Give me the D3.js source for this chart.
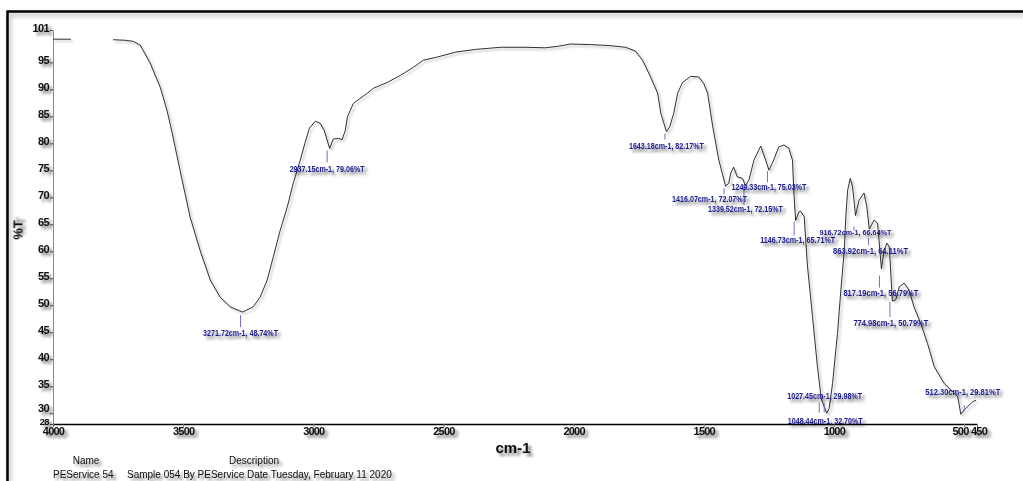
<!DOCTYPE html>
<html>
<head>
<meta charset="utf-8">
<script src="https://cdn.jsdelivr.net/npm/d3@7"></script>
<style>
  html, body { margin: 0; padding: 0; background: #fff; }
  svg { display: block; }
</style>
</head>
<body>
<svg id="chart" width="1023" height="481"></svg>
<script>
// IR spectrum: wavenumber (cm-1) and transmittance (%T); null marks a gap in the trace
const wavenumbers = [
  4000, 3931, 3900, 3769, 3723, 3692, 3665, 3627, 3588, 3562, 3542, 3512, 3473, 3435, 3396, 3358, 3319,
  3271.72, 3231, 3204, 3177, 3154, 3127, 3100, 3077, 3050, 3031, 3015, 2992, 2973, 2958,
  2937.15, 2923, 2904, 2889, 2877, 2869, 2846, 2792, 2769, 2715, 2665, 2615, 2577, 2523, 2454, 2377,
  2281, 2185, 2108, 2058, 2012, 1935, 1858, 1800, 1762, 1735, 1704, 1677, 1665,
  1643.18, 1631, 1615, 1600, 1581, 1550, 1519, 1500, 1485, 1465, 1442,
  1416.07, 1404, 1396, 1385, 1371, 1351, 1339.52, 1326, 1307, 1281, 1262, 1249.33, 1231, 1212, 1192,
  1173, 1159, 1153, 1146.73, 1134, 1127, 1114, 1101, 1082, 1063, 1048.44, 1027.45, 1018, 1005, 986,
  973, 960, 954, 947, 937, 928, 916.72, 903, 884, 873, 863.92, 845, 832, 817.19, 807, 796, 787,
  774.98, 762, 749, 730, 711, 692, 666, 640, 614, 576, 550, 524, 512.30, 493, 467, 454
];
const transmittance = [
  99.3, 99.3, null, 99.2, 99.1, 98.9, 98.2, 94.9, 90.4, 86.1, 81.9, 75.0, 66.3, 60.2, 54.7, 51.5, 49.7,
  48.74, 49.7, 51.5, 54.7, 58.9, 63.9, 68.2, 72.6, 76.9, 80.2, 82.8, 84.1, 83.7, 82.4,
  79.06, 80.8, 80.9, 80.7, 82.4, 84.9, 87.4, 89.3, 90.2, 91.3, 92.6, 94.1, 95.4, 96.0, 96.9, 97.4,
  97.8, 97.8, 97.7, 98.0, 98.4, 98.3, 98.1, 97.8, 97.1, 95.4, 92.3, 89.3, 85.6,
  82.17, 83.0, 85.6, 89.3, 91.3, 92.4, 92.3, 91.1, 89.3, 83.0, 76.9,
  72.07, 72.6, 74.5, 75.6, 73.8, 73.5, 72.15, 73.2, 76.9, 79.5, 76.9, 75.03, 76.9, 79.3, 79.7,
  79.1, 76.9, 70.4, 65.71, 67.3, 67.4, 66.4, 57.1, 47.9, 38.6, 32.70, 29.98, 30.9, 35.5, 44.8,
  52.8, 60.2, 66.4, 71.3, 73.5, 71.9, 66.64, 69.5, 70.8, 68.2, 64.11, 65.8, 65.2, 56.79, 60.2, 61.5, 60.8,
  50.79, 51.0, 53.4, 54.1, 52.8, 49.7, 46.6, 42.9, 38.6, 35.5, 34.3, 33.1, 29.81, 30.9, 32.1, 32.4
];

// Picked peaks
const peakWavenumbers = [3271.72, 2937.15, 1643.18, 1416.07, 1339.52, 1249.33, 1146.73,
                         1048.44, 1027.45, 916.72, 863.92, 817.19, 774.98, 512.30];
const peakTransmittance = [48.74, 79.06, 82.17, 72.07, 72.15, 75.03, 65.71,
                           32.70, 29.98, 66.64, 64.11, 56.79, 50.79, 29.81];

// Axis ticks
const xTickValues = [4000, 3500, 3000, 2500, 2000, 1500, 1000, 500, 450];
const yTickValues = [101, 95, 90, 85, 80, 75, 70, 65, 60, 55, 50, 45, 40, 35, 30, 28];

const xTitle = "cm-1";
const yTitle = "%T";
const footerHeaders = ["Name", "Description"];
const footerValues = ["PEService 54", "Sample 054 By PEService Date Tuesday, February 11 2020"];

// Placement of each peak annotation relative to its peak (marker tick and text)
const peakLabelLayout = [
  { mx: -2,   m0: 3,   m1: 15, tx: -2,  ty: 21 },
  { mx: -2.5, m0: 2,   m1: 14, tx: -2.5, ty: 21 },
  { mx: -1.5, m0: 2,   m1: 8,  tx: 0,   ty: 14 },
  { mx: -1.5, m0: 2,   m1: 8,  tx: -16, ty: 13 },
  { mx: -1.5, m0: 1,   m1: 19, tx: 0,   ty: 23 },
  { mx: -1.5, m0: 1,   m1: 12, tx: 0,   ty: 17 },
  { mx: -1.5, m0: 1,   m1: 15, tx: 2,   ty: 20 },
  { mx: -2,   m0: 4,   m1: 14, tx: 4,   ty: 22 },
  { mx: -2.5, m0: -10, m1: -1, tx: -2,  ty: -17.5 },
  { mx: -1.5, m0: 11,  m1: 15, tx: 0,   ty: 17, small: true },
  { mx: -0.7, m0: 9,   m1: 16, tx: 1.3, ty: 22 },
  { mx: -2,   m0: 7,   m1: 19, tx: -0.5, ty: 24 },
  { mx: -2.5, m0: 1,   m1: 16, tx: -1.5, ty: 22 },
  { mx: 3.5,  m0: -9,  m1: -3, tx: 2,   ty: -22 }
];

const svg = d3.select("#chart");
const FONT = "'Liberation Sans', Arial, Helvetica, sans-serif";

// Soft drop shadows
const defs = svg.append("defs");
function addShadow(id, dx, dy, blur, alpha) {
  const f = defs.append("filter").attr("id", id)
    .attr("x", "-20%").attr("y", "-50%").attr("width", "150%").attr("height", "250%");
  f.append("feGaussianBlur").attr("in", "SourceAlpha").attr("stdDeviation", blur);
  f.append("feOffset").attr("dx", dx).attr("dy", dy);
  f.append("feComponentTransfer").append("feFuncA").attr("type", "linear").attr("slope", alpha);
  const m = f.append("feMerge");
  m.append("feMergeNode");
  m.append("feMergeNode").attr("in", "SourceGraphic");
}
addShadow("textShadow", 3, 3, 1.7, 0.55);
addShadow("lineShadow", 2, 2, 1.2, 0.35);
addShadow("frameShadow", 2, 3, 2.5, 0.35);

// Outer frame
svg.append("path")
  .attr("d", "M7.5,481 V11.5 H1023")
  .attr("fill", "none").attr("stroke", "#000").attr("stroke-width", 2.5)
  .attr("filter", "url(#frameShadow)");

// Scales
const x = d3.scaleLinear().domain([4000, 450]).range([53, 977]);
const y = d3.scaleLinear().domain([28, 101]).range([424, 30]);

// Y axis
const yAxisG = svg.append("g")
  .attr("transform", "translate(53,0)")
  .call(d3.axisLeft(y).tickValues(yTickValues).tickSize(3).tickSizeOuter(0).tickPadding(1)
        .tickFormat(d3.format("d")));
yAxisG.select(".domain").attr("stroke", "#8a8a8a").attr("stroke-width", 1);
yAxisG.selectAll(".tick line").attr("stroke", "#555");
yAxisG.selectAll(".tick text")
  .attr("font-family", FONT).attr("font-size", 11).attr("font-weight", "bold")
  .attr("letter-spacing", "-0.6px").attr("fill", "#111").attr("dy", "0.1em")
  .attr("filter", "url(#textShadow)");
// the two lowest labels sit tightly stacked
yAxisG.selectAll(".tick text").filter(d => d === 30).attr("dy", "-0.15em");
yAxisG.selectAll(".tick text").filter(d => d === 28).attr("dy", "0em").attr("font-size", 9.5);

// X axis
const xAxisG = svg.append("g")
  .attr("transform", "translate(0,424)")
  .call(d3.axisBottom(x).tickValues(xTickValues).tickSize(3).tickSizeOuter(0).tickPadding(1)
        .tickFormat(d3.format("d")));
xAxisG.select(".domain").attr("stroke", "#000").attr("stroke-width", 1.3);
xAxisG.selectAll(".tick line").attr("stroke", "#777");
xAxisG.selectAll(".tick text")
  .attr("font-family", FONT).attr("font-size", 11).attr("font-weight", "bold")
  .attr("letter-spacing", "-0.8px").attr("fill", "#111").attr("dy", "0.68em")
  .attr("filter", "url(#textShadow)");
// 500 and 450 are close together; nudge them apart
xAxisG.selectAll(".tick text").filter(d => d === 500).attr("dx", -4);
xAxisG.selectAll(".tick text").filter(d => d === 450).attr("dx", 1.5);

// Axis titles
svg.append("text")
  .attr("x", 513).attr("y", 453)
  .attr("text-anchor", "middle")
  .attr("font-family", FONT).attr("font-size", 15).attr("font-weight", "bold")
  .attr("fill", "#111").attr("filter", "url(#textShadow)")
  .text(xTitle);
svg.append("text")
  .attr("transform", "translate(22.5,230) rotate(-90)")
  .attr("text-anchor", "middle")
  .attr("font-family", FONT).attr("font-size", 13).attr("font-weight", "bold")
  .attr("fill", "#111").attr("filter", "url(#textShadow)")
  .text(yTitle);

// Spectrum trace
const spectrum = wavenumbers.map((w, i) => ({ w, t: transmittance[i] }));
const line = d3.line()
  .defined(d => d.t != null)
  .x(d => x(d.w))
  .y(d => y(d.t));
svg.append("path")
  .datum(spectrum)
  .attr("d", line)
  .attr("fill", "none")
  .attr("stroke", "#1a1a1a")
  .attr("stroke-width", 0.9)
  .attr("stroke-linejoin", "round")
  .attr("filter", "url(#lineShadow)");

// Peak annotations
const peaks = peakWavenumbers.map((w, i) => ({
  w, t: peakTransmittance[i], layout: peakLabelLayout[i],
  label: `${w.toFixed(2)}cm-1, ${peakTransmittance[i].toFixed(2)}%T`
}));
const peakG = svg.append("g");
peakG.selectAll("line.marker")
  .data(peaks).join("line")
  .attr("class", "marker")
  .attr("x1", d => x(d.w) + d.layout.mx).attr("x2", d => x(d.w) + d.layout.mx)
  .attr("y1", d => y(d.t) + d.layout.m0).attr("y2", d => y(d.t) + d.layout.m1)
  .attr("stroke", "#6f6fc4").attr("stroke-width", 1);
peakG.selectAll("text.peak")
  .data(peaks).join("text")
  .attr("class", "peak")
  .attr("x", d => x(d.w) + d.layout.tx)
  .attr("y", d => y(d.t) + d.layout.ty)
  .attr("dy", "0.35em")
  .attr("text-anchor", "middle")
  .attr("font-family", FONT)
  .attr("font-size", d => d.layout.small ? 7 : 8.5)
  .attr("font-weight", "bold")
  .attr("textLength", d => d.layout.small ? 72 : 75)
  .attr("lengthAdjust", "spacingAndGlyphs")
  .attr("fill", "#1b1b8f")
  .attr("filter", "url(#textShadow)")
  .text(d => d.label);

// Footer
svg.append("g").selectAll("text")
  .data(footerHeaders).join("text")
  .attr("x", (d, i) => [86, 254][i]).attr("y", 464)
  .attr("text-anchor", "middle")
  .attr("font-family", FONT).attr("font-size", 10).attr("fill", "#111")
  .attr("filter", "url(#textShadow)")
  .text(d => d);
svg.append("g").selectAll("text")
  .data(footerValues).join("text")
  .attr("x", (d, i) => [53, 127][i]).attr("y", 478)
  .attr("font-family", FONT).attr("font-size", 10).attr("fill", "#111")
  .attr("filter", "url(#textShadow)")
  .text(d => d);
</script>
</body>
</html>
